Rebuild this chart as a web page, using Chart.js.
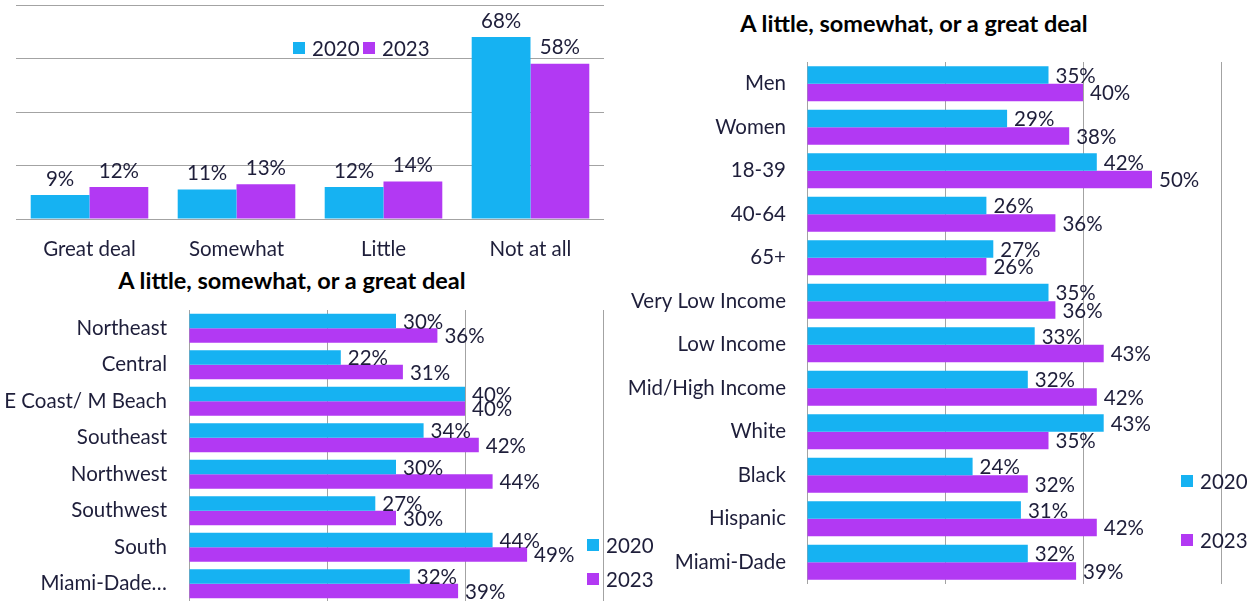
<!DOCTYPE html>
<html>
<head>
<meta charset="utf-8">
<script src="https://cdn.jsdelivr.net/npm/chart.js@4"></script>
<style>
  html, body { margin: 0; padding: 0; background: #fff; overflow: hidden; }
  body { width: 1251px; height: 601px; position: relative; }
  .panel { position: absolute; }
  .title {
    position: absolute; transform: translateX(-50%);
    font: bold 23.5px Lato, sans-serif; line-height: 26px;
    color: #000; white-space: nowrap;
  }
</style>
</head>
<body>
<div class="panel" style="left:0;top:0"><canvas id="levelChart" width="620" height="265"></canvas></div>
<div class="title" style="left:292px;top:267px">A little, somewhat, or a great deal</div>
<div class="panel" style="left:0;top:300px"><canvas id="regionChart" width="660" height="302"></canvas></div>
<div class="title" style="left:914px;top:10px">A little, somewhat, or a great deal</div>
<div class="panel" style="left:620px;top:0"><canvas id="groupChart" width="631" height="601"></canvas></div>

<script>
// survey answers, 2020 vs 2023 (percent)
const levels = ['Great deal', 'Somewhat', 'Little', 'Not at all'];
const level2020 = [9, 11, 12, 68];
const level2023 = [12, 13, 14, 58];

const regions = ['Northeast', 'Central', 'E Coast/ M Beach', 'Southeast', 'Northwest', 'Southwest', 'South', 'Miami-Dade…'];
const region2020 = [30, 22, 40, 34, 30, 27, 44, 32];
const region2023 = [36, 31, 40, 42, 44, 30, 49, 39];

const groups = ['Men', 'Women', '18-39', '40-64', '65+', 'Very Low Income', 'Low Income', 'Mid/High Income', 'White', 'Black', 'Hispanic', 'Miami-Dade'];
const group2020 = [35, 29, 42, 26, 27, 35, 33, 32, 43, 24, 31, 32];
const group2023 = [40, 38, 50, 36, 26, 36, 43, 42, 35, 32, 42, 39];

const cyan = '#16b2f2';
const purple = '#b239f3';
const textColor = '#1e1e3a';
const gridColor = '#a3a3a3';
const labelFont = '20.5px Lato, sans-serif';

Chart.defaults.font.family = 'Lato, sans-serif';
Chart.defaults.font.size = 20.5;
Chart.defaults.color = textColor;

// percent labels next to / above each bar
const valueLabels = {
  id: 'valueLabels',
  afterDatasetsDraw(chart) {
    const ctx = chart.ctx;
    const horizontal = chart.options.indexAxis === 'y';
    ctx.save();
    ctx.font = labelFont;
    ctx.fillStyle = textColor;
    chart.data.datasets.forEach((ds, i) => {
      chart.getDatasetMeta(i).data.forEach((bar, j) => {
        const txt = ds.data[j] + '%';
        if (horizontal) {
          ctx.textAlign = 'left';
          ctx.textBaseline = 'middle';
          ctx.fillText(txt, bar.x + 7, bar.y + 1);
        } else {
          ctx.textAlign = 'center';
          ctx.textBaseline = 'middle';
          ctx.fillText(txt, bar.x, bar.y - 16);
        }
      });
    });
    ctx.restore();
  }
};

// small square legend at a fixed spot
const cornerLegend = {
  id: 'cornerLegend',
  afterDraw(chart, args, opts) {
    const ctx = chart.ctx;
    ctx.save();
    ctx.font = labelFont;
    ctx.textAlign = 'left';
    ctx.textBaseline = 'middle';
    chart.data.datasets.forEach((ds, i) => {
      const x = opts.x + i * (opts.dx || 0);
      const y = opts.y + i * (opts.dy || 0);
      ctx.fillStyle = ds.backgroundColor;
      ctx.fillRect(x, y - 6, 12, 12);
      ctx.fillStyle = textColor;
      ctx.fillText(ds.label, x + 19, y + 1);
    });
    ctx.restore();
  }
};

function yearSets(a, b) {
  return [
    { label: '2020', data: a, backgroundColor: cyan, categoryPercentage: 0.8, barPercentage: 1 },
    { label: '2023', data: b, backgroundColor: purple, categoryPercentage: 0.8, barPercentage: 1 }
  ];
}

// fixed axis sizes, and no extra room for half labels at the ends
function fixSize(w, h) {
  return function (s) {
    if (w !== null) s.width = w;
    if (h !== null) s.height = h;
    s.paddingTop = s.paddingBottom = s.paddingLeft = s.paddingRight = 0;
  };
}

new Chart(document.getElementById('levelChart'), {
  type: 'bar',
  data: { labels: levels, datasets: yearSets(level2020, level2023) },
  options: {
    responsive: false,
    animation: false,
    layout: { padding: { left: 16, right: 16, top: 5, bottom: 0 } },
    scales: {
      x: {
        grid: { display: false, drawTicks: false },
        border: { display: false },
        ticks: { padding: 18 },
        afterFit: fixSize(null, 46)
      },
      y: {
        min: 0, max: 80,
        ticks: { display: false, stepSize: 20 },
        grid: { color: gridColor, drawTicks: false },
        border: { display: false },
        afterFit: fixSize(0, null)
      }
    },
    plugins: {
      legend: { display: false },
      tooltip: { enabled: false },
      cornerLegend: { x: 293, y: 48, dx: 70 }
    }
  },
  plugins: [valueLabels, cornerLegend]
});

function hbarOptions(padding, axisWidth, tickPad, legendPos) {
  return {
    indexAxis: 'y',
    responsive: false,
    animation: false,
    layout: { padding: padding },
    scales: {
      x: {
        min: 0, max: 60,
        ticks: { display: false, stepSize: 20 },
        grid: { color: gridColor, drawTicks: false },
        border: { display: false },
        afterFit: fixSize(null, 0)
      },
      y: {
        grid: { display: false, drawTicks: false },
        border: { display: false },
        ticks: { padding: tickPad, autoSkip: false },
        afterFit: fixSize(axisWidth, null)
      }
    },
    plugins: {
      legend: { display: false },
      tooltip: { enabled: false },
      cornerLegend: legendPos
    }
  };
}

new Chart(document.getElementById('regionChart'), {
  type: 'bar',
  data: { labels: regions, datasets: yearSets(region2020, region2023) },
  options: hbarOptions({ left: 0, right: 57, top: 10, bottom: 0 }, 189, 22, { x: 587, y: 245, dy: 34 }),
  plugins: [valueLabels, cornerLegend]
});

new Chart(document.getElementById('groupChart'), {
  type: 'bar',
  data: { labels: groups, datasets: yearSets(group2020, group2023) },
  options: hbarOptions({ left: 0, right: 30, top: 62, bottom: 17 }, 187, 21, { x: 561, y: 481, dy: 59 }),
  plugins: [valueLabels, cornerLegend]
});
</script>
</body>
</html>
